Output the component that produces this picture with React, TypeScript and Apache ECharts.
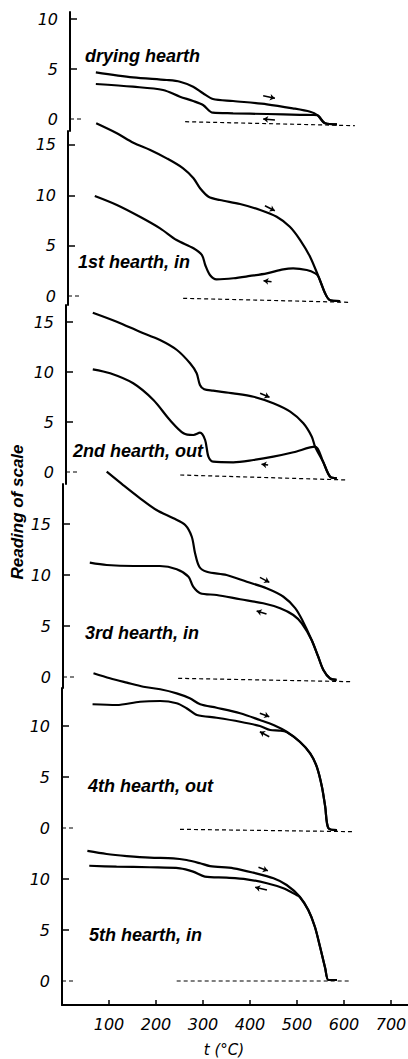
import React, { useEffect, useRef } from "react";
import * as echarts from "echarts";

// ---------- data ----------
const xTickValues = [100, 200, 300, 400, 500, 600, 700];
const panelLabels = ["drying hearth", "1st hearth, in", "2nd hearth, out", "3rd hearth, in", "4th hearth, out", "5th hearth, in"];
const panelYTicks = [[0, 5, 10], [0, 5, 10, 15], [0, 5, 10, 15], [0, 5, 10, 15], [0, 5, 10], [0, 5, 10]];

const dryingUpper = [[55, 4.67], [134, 4.17], [206, 3.9], [234, 3.73], [262, 3.23], [283, 2.57], [304, 2.0], [347, 1.8], [419, 1.47], [474, 1.07], [511, 0.73], [526, 0.4], [543, -0.43], [568, -0.53]];
const dryingLower = [[55, 3.5], [134, 3.23], [198, 2.9], [234, 2.23], [262, 1.8], [283, 1.4], [304, 0.63], [347, 0.57], [419, 0.5], [489, 0.42], [517, 0.4], [526, 0.38], [543, -0.43], [568, -0.53]];

const hearth1Upper = [[60, 17.15], [104, 16.16], [139, 15.22], [175, 14.5], [210, 13.67], [245, 12.68], [267, 11.69], [281, 10.7], [299, 9.86], [323, 9.53], [366, 9.14], [409, 8.54], [444, 7.87], [472, 6.88], [494, 5.56], [515, 3.9], [533, 1.92], [547, 0.27], [557, -0.4], [579, -0.5]];
const hearth1Lower = [[57, 9.93], [104, 9.04], [153, 7.87], [196, 6.72], [231, 5.56], [267, 4.74], [285, 4.07], [292, 3.08], [302, 2.09], [316, 1.66], [352, 1.76], [387, 1.99], [423, 2.25], [458, 2.65], [479, 2.75], [508, 2.58], [526, 2.25], [533, 1.92], [547, 0.27], [557, -0.4], [579, -0.5]];

const hearth2Upper = [[57, 15.93], [108, 15.03], [157, 14.03], [200, 13.2], [236, 12.2], [264, 10.87], [278, 9.87], [285, 8.7], [294, 8.27], [313, 8.13], [356, 7.87], [399, 7.53], [441, 6.87], [477, 6.03], [505, 4.87], [523, 3.53], [530, 2.53], [547, 1.03], [562, -0.47], [576, -0.6]];
const hearth2Lower = [[57, 10.27], [94, 9.87], [143, 8.87], [186, 7.2], [221, 5.2], [250, 3.87], [271, 3.7], [285, 3.93], [296, 3.2], [303, 1.53], [313, 1.03], [356, 0.97], [399, 1.2], [441, 1.53], [484, 1.97], [530, 2.53], [547, 1.03], [562, -0.47], [576, -0.6]];

const hearth3Upper = [[93, 20.13], [128, 18.82], [164, 17.52], [199, 16.37], [235, 15.56], [260, 14.9], [274, 13.75], [281, 12.13], [290, 10.81], [306, 10.32], [348, 10.0], [391, 9.34], [433, 8.7], [469, 7.87], [494, 6.75], [510, 5.5], [529, 3.63], [543, 1.99], [554, 0.69], [568, -0.13], [582, -0.29]];
const hearth3Lower = [[57, 11.21], [93, 10.98], [150, 10.88], [206, 10.88], [242, 10.56], [267, 9.83], [277, 8.85], [292, 8.21], [327, 8.04], [377, 7.62], [426, 7.23], [462, 6.74], [490, 6.08], [508, 5.26], [529, 3.63], [543, 1.99], [554, 0.69], [568, -0.13], [582, -0.29]];

const hearth4Upper = [[67, 15.17], [102, 14.68], [138, 14.25], [173, 13.85], [209, 13.6], [244, 13.2], [272, 12.72], [294, 12.13], [329, 11.79], [379, 11.25], [421, 10.59], [450, 10.1], [478, 9.44], [506, 8.46], [528, 7.32], [542, 6.01], [553, 4.05], [560, 2.09], [567, -0.03], [585, -0.2]];
const hearth4Lower = [[65, 12.13], [116, 12.06], [166, 12.38], [209, 12.45], [244, 12.23], [265, 11.74], [287, 11.08], [329, 10.81], [379, 10.42], [421, 10.0], [443, 9.61], [462, 9.55], [478, 9.4], [506, 8.46], [528, 7.32], [542, 6.01], [553, 4.05], [560, 2.09], [567, -0.03], [585, -0.2]];

const hearth5Upper = [[54, 12.75], [95, 12.45], [138, 12.25], [187, 12.09], [237, 12.03], [265, 11.86], [294, 11.54], [315, 11.27], [365, 11.05], [407, 10.62], [450, 10.07], [478, 9.41], [506, 8.26], [524, 6.96], [538, 5.32], [549, 3.36], [560, 1.25], [567, 0.1], [585, 0.1]];
const hearth5Lower = [[58, 11.3], [116, 11.21], [187, 11.15], [251, 11.05], [279, 10.72], [304, 10.23], [350, 10.13], [393, 9.97], [436, 9.58], [471, 9.09], [499, 8.43], [506, 8.22], [524, 6.96], [538, 5.32], [549, 3.36], [560, 1.25], [567, 0.1], [585, 0.1]];

// dashed base lines [[tStart, vStart], [tEnd, vEnd]]
const baseLines = [
  [[245, -0.27], [606, -0.67]],
  [[245, -0.23], [600, -0.63]],
  [[243, -0.3], [600, -0.8]],
  [[245, -0.13], [614, -0.46]],
  [[251, -0.13], [620, -0.36]],
  [[244, 0], [613, 0]],
];
const zeroDash = [[0, 0], [28, 0]];

// arrows: [heating (upper), cooling (lower)], each [[from t, v], [to t, v]]
const arrowMarks = [
  [[[411, 2.33], [436, 2.07]], [[436, -0.1], [411, 0.0]]],
  [[[419, 8.97], [440, 8.47]], [[433, 1.42], [416, 1.52]]],
  [[[413, 7.87], [433, 7.47]], [[430, 0.7], [416, 0.77]]],
  [[[419, 9.77], [439, 9.28]], [[433, 6.18], [412, 6.47]]],
  [[[421, 11.25], [441, 10.91]], [[441, 8.95], [421, 9.44]]],
  [[[418, 11.15], [438, 10.81]], [[436, 8.92], [411, 9.19]]],
];

const upperCurves = [dryingUpper, hearth1Upper, hearth2Upper, hearth3Upper, hearth4Upper, hearth5Upper];
const lowerCurves = [dryingLower, hearth1Lower, hearth2Lower, hearth3Lower, hearth4Lower, hearth5Lower];

// ---------- layout ----------
const W = 408;
const H = 1059;
const pxPerDeg = 0.47;
const panelLeft = [70, 68, 66, 63, 62, 62];
const panelZeroY = [119, 296, 472, 677, 828, 981];
const panelPpu = [10, 10.07, 10, 10.2, 10.2, 10.2];
const panelTop = [12, 131, 305, 484, 688, 838];
const panelBottom = [131, 305, 484, 688, 838, 1005];
const labelPos = [[85, 56], [78, 262], [73, 451], [85, 633], [88, 786], [89, 935]];

const numFont = "DejaVu Sans";
const textFont = "Liberation Sans";

export default function App() {
  const ref = useRef<HTMLDivElement>(null);
  useEffect(() => {
    document.body.style.margin = "0";
    if (!ref.current) return;
    const chart = echarts.init(ref.current, null, { renderer: "svg" });

    const grids: any[] = [];
    const xAxes: any[] = [];
    const yAxes: any[] = [];
    const series: any[] = [];
    const graphics: any[] = [];

    for (let i = 0; i < 6; i++) {
      const left = panelLeft[i];
      const top = panelTop[i];
      const bottom = panelBottom[i];
      const z = panelZeroY[i];
      const ppu = panelPpu[i];
      const isLast = i === 5;
      grids.push({ left, top, width: W - left, height: bottom - top, outerBoundsMode: "none", containLabel: false });
      xAxes.push({
        type: "value",
        gridIndex: i,
        min: 0,
        max: (W - left) / pxPerDeg,
        show: isLast,
        splitLine: { show: false },
        axisLine: { show: true, onZero: false, lineStyle: { color: "#000", width: 2 } },
        axisTick: { show: true, inside: true, length: 5, customValues: xTickValues, lineStyle: { color: "#000", width: 1.5 } },
        axisLabel: { customValues: xTickValues, margin: 11, color: "#000", fontSize: 16, fontStyle: "italic", fontFamily: numFont },
        name: isLast ? "t (°C)" : "",
        nameLocation: "middle",
        nameGap: 37,
        nameTextStyle: { color: "#000", fontSize: 15, fontStyle: "italic", fontFamily: numFont, padding: [0, 22, 0, 0] },
      });
      const ticks = panelYTicks[i];
      yAxes.push({
        type: "value",
        gridIndex: i,
        min: -(bottom - z) / ppu,
        max: (z - top) / ppu,
        splitLine: { show: false },
        axisLine: { show: true, onZero: false, lineStyle: { color: "#000", width: 2 } },
        axisTick: { show: true, inside: true, length: 7, customValues: ticks.filter((v) => v !== 0), lineStyle: { color: "#000", width: 1.5 } },
        axisLabel: { customValues: ticks, margin: 12, color: "#000", fontSize: 16, fontStyle: "italic", fontFamily: numFont },
      });
      const common = {
        type: "line",
        xAxisIndex: i,
        yAxisIndex: i,
        showSymbol: false,
        symbol: "none",
        clip: false,
        silent: true,
      };
      const arr = arrowMarks[i];
      series.push({
        ...common,
        data: upperCurves[i],
        smooth: 0.3,
        lineStyle: { color: "#000", width: 2.2 },
        markLine: {
          silent: true,
          symbol: ["none", "arrow"],
          symbolSize: 5,
          label: { show: false },
          lineStyle: { color: "#000", width: 1.6, type: "solid" },
          data: arr.map((a) => [{ coord: a[0] }, { coord: a[1] }]),
        },
      });
      series.push({ ...common, data: lowerCurves[i], smooth: 0.3, lineStyle: { color: "#000", width: 2.2 } });
      series.push({ ...common, data: baseLines[i], lineStyle: { color: "#000", width: 1.2, type: [4, 3] } });
      series.push({ ...common, data: zeroDash, lineStyle: { color: "#000", width: 1.2, type: [4, 3] } });

      graphics.push({
        type: "text",
        x: labelPos[i][0],
        y: labelPos[i][1],
        silent: true,
        style: {
          text: panelLabels[i],
          fill: "#000",
          fontSize: 18,
          fontStyle: "italic",
          fontWeight: "bold",
          fontFamily: textFont,
          align: "left",
          verticalAlign: "middle",
        },
      });
    }

    graphics.push({
      type: "text",
      x: 17,
      y: 512,
      rotation: Math.PI / 2,
      silent: true,
      style: {
        text: "Reading of scale",
        fill: "#000",
        fontSize: 17,
        fontStyle: "italic",
        fontWeight: "bold",
        fontFamily: textFont,
        align: "center",
        verticalAlign: "middle",
      },
    });

    chart.setOption({
      animation: false,
      backgroundColor: "#fff",
      grid: grids,
      xAxis: xAxes,
      yAxis: yAxes,
      series,
      graphic: graphics,
    });
    return () => chart.dispose();
  }, []);
  return <div ref={ref} style={{ width: W, height: H }} />;
}
